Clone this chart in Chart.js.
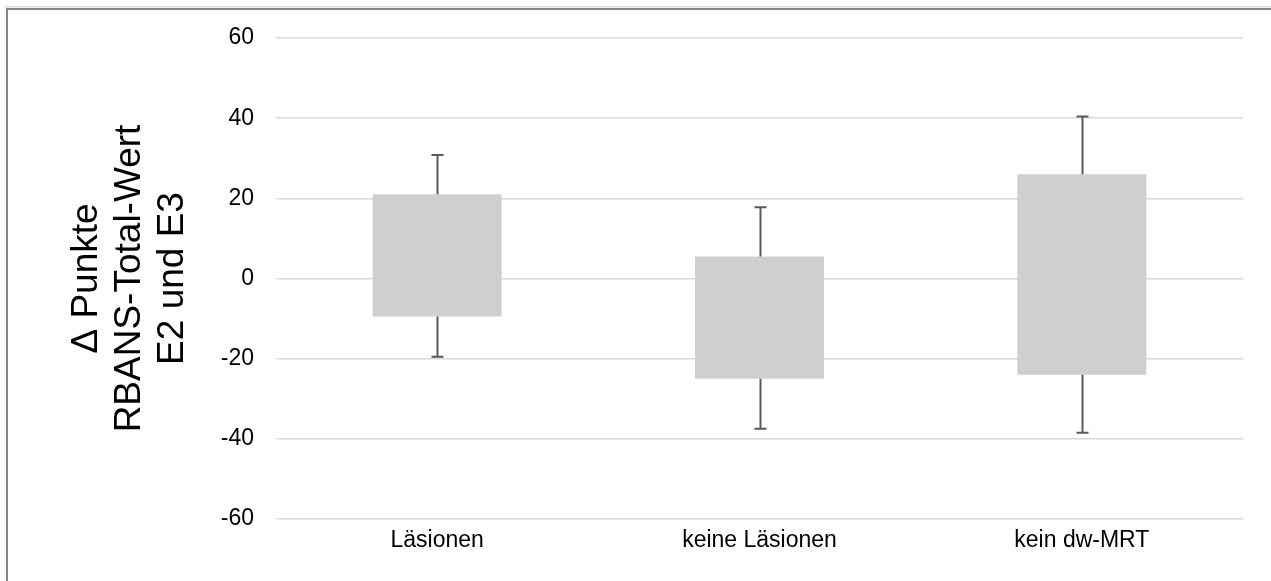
<!DOCTYPE html>
<html>
<head>
<meta charset="utf-8">
<script src="https://cdn.jsdelivr.net/npm/chart.js@4/dist/chart.umd.min.js"></script>
<style>
  html, body { margin: 0; padding: 0; background: #ffffff; }
  #wrap { position: relative; width: 1271px; height: 581px; }
</style>
</head>
<body>
<div id="wrap"><canvas id="chart" width="1271" height="581"></canvas></div>
<script>
// Gruppen und Kennwerte der RBANS-Differenz (E2 -> E3)
const categories = ['Läsionen', 'keine Läsionen', 'kein dw-MRT'];
const boxLow  = [-9.5, -25.0, -24.0];
const boxHigh = [21.0, 5.5, 26.0];
const whiskerLow  = [-19.5, -37.5, -38.5];
const whiskerHigh = [30.8, 17.8, 40.4];
const yTicks = [-60, -40, -20, 0, 20, 40, 60];
const yTitle = ['\u0394 Punkte', 'RBANS-Total-Wert', 'E2 und E3'];

const FONT = 'Liberation Sans, Arial, Helvetica, sans-serif';

// Rahmen um die Grafik
const framePlugin = {
  id: 'frame',
  beforeDraw(chart) {
    const ctx = chart.ctx;
    ctx.save();
    ctx.fillStyle = '#ffffff';
    ctx.fillRect(0, 0, chart.width, chart.height);
    ctx.fillStyle = '#dedede';
    ctx.fillRect(5, 6, chart.width, 1.5);
    ctx.fillStyle = '#858585';
    ctx.fillRect(6, 8, chart.width, 2);
    ctx.fillRect(6, 8, 2, chart.height);
    ctx.restore();
  }
};

// Fehlerbalken (Whisker) ober- und unterhalb der Boxen
const whiskerPlugin = {
  id: 'whiskers',
  afterDatasetsDraw(chart) {
    const ctx = chart.ctx;
    const y = chart.scales.y;
    const meta = chart.getDatasetMeta(0);
    ctx.save();
    ctx.strokeStyle = '#5a5a5a';
    ctx.lineWidth = 2;
    meta.data.forEach((bar, i) => {
      const x = Math.round(bar.x) + 0.5;
      const yTop = y.getPixelForValue(boxHigh[i]);
      const yBot = y.getPixelForValue(boxLow[i]);
      const wHi = y.getPixelForValue(whiskerHigh[i]);
      const wLo = y.getPixelForValue(whiskerLow[i]);
      ctx.beginPath();
      ctx.moveTo(x, yTop); ctx.lineTo(x, wHi);
      ctx.moveTo(x - 6, wHi); ctx.lineTo(x + 6, wHi);
      ctx.moveTo(x, yBot); ctx.lineTo(x, wLo);
      ctx.moveTo(x - 6, wLo); ctx.lineTo(x + 6, wLo);
      ctx.stroke();
    });
    ctx.restore();
  }
};

new Chart(document.getElementById('chart'), {
  type: 'bar',
  data: {
    labels: categories,
    datasets: [{
      data: categories.map((c, i) => [boxLow[i], boxHigh[i]]),
      backgroundColor: '#d0cecf',
      borderWidth: 0,
      borderSkipped: false,
      barPercentage: 0.4,
      categoryPercentage: 1.0
    }]
  },
  options: {
    responsive: false,
    animation: false,
    layout: { padding: { top: 38, right: 28, bottom: 0, left: 0 } },
    plugins: {
      legend: { display: false },
      tooltip: { enabled: false }
    },
    scales: {
      x: {
        grid: { display: false, drawTicks: false },
        border: { display: false },
        ticks: {
          color: '#000000',
          font: { family: FONT, size: 23 },
          padding: 8
        },
        afterFit(scale) { scale.height = 62; }
      },
      y: {
        min: -60,
        max: 60,
        afterBuildTicks(scale) { scale.ticks = yTicks.map(v => ({ value: v })); },
        grid: { color: '#d9d9d9', lineWidth: 1.5, drawTicks: false },
        border: { display: false },
        ticks: {
          color: '#000000',
          font: { family: FONT, size: 23 },
          padding: 22
        },
        title: {
          display: true,
          text: yTitle,
          color: '#000000',
          font: { family: FONT, size: 37, lineHeight: 1.162 },
          padding: { top: 65, bottom: 0 }
        },
        afterFit(scale) { scale.width = 276; }
      }
    }
  },
  plugins: [framePlugin, whiskerPlugin]
});
</script>
</body>
</html>
